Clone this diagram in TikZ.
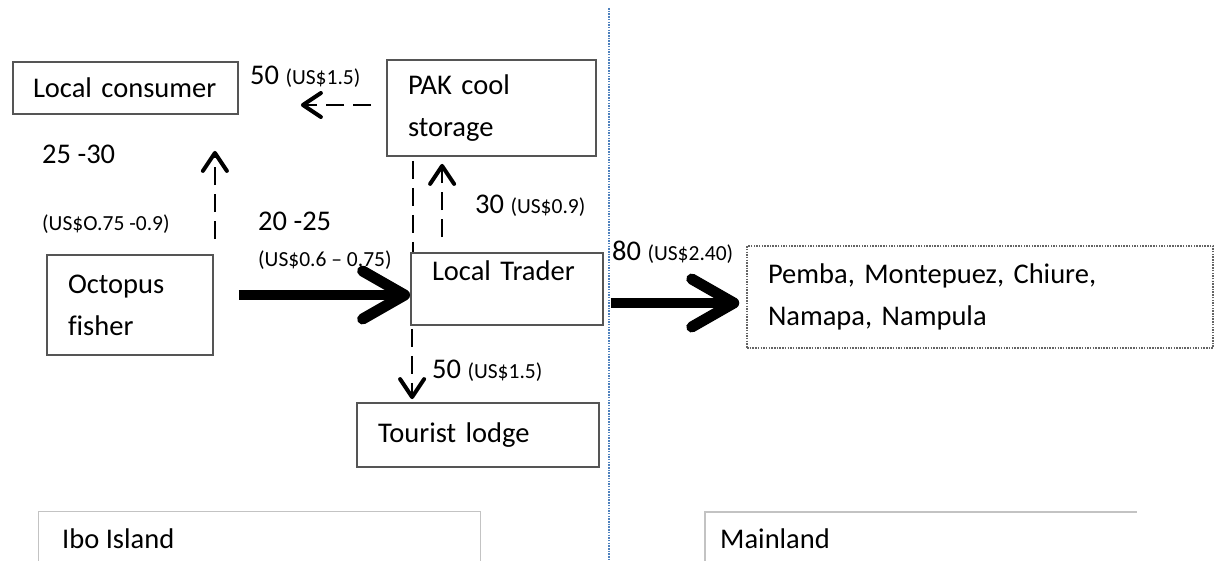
\documentclass[tikz,border=0pt]{standalone}
\usepackage{fontspec}
\setmainfont{Carlito}[Ligatures=NoCommon]
\usetikzlibrary{arrows.meta,calc}
\definecolor{boxgray}{RGB}{85,85,85}
\definecolor{dotgray}{RGB}{100,100,100}
\definecolor{regiongray}{RGB}{195,195,195}
\definecolor{divblue}{RGB}{79,129,189}
\newcommand{\bigfont}{\fontsize{28.5}{42}\selectfont}
\newcommand{\pricetag}[1]{{\fontsize{21.5}{24}\selectfont(US\$#1)}}
\begin{document}
\begin{tikzpicture}[x=1pt,y=-1pt,
  box/.style={draw=boxgray, line width=1.8pt, fill=white, inner sep=0pt, align=left, font=\bigfont},
  lbl/.style={inner sep=0pt, anchor=base west, font=\bigfont},
  smlbl/.style={inner sep=0pt, anchor=base west},
  dashline/.style={line width=2.5pt, dash pattern=on 18pt off 9pt},
  dasharrow/.style={dashline, -{Straight Barb[length=18pt, width=24pt, line width=4pt, round]}},
  thickarrow/.style={line width=10pt, -{Straight Barb[length=42pt, width=48pt, line width=11pt, round]}},
  divider/.style={draw=divblue, line width=2pt, dash pattern=on 1.5pt off 1.2pt},
  regionline/.style={draw=regiongray, line width=1.2pt}
]
\useasboundingbox (0,0) rectangle (1216,560);

% boxes
\node[box, minimum width=225, minimum height=52, text width=185] (consumer) at (125.5,88) {Local consumer};
\node[box, minimum width=209, minimum height=96, text width=167] (pak) at (491.5,108) {PAK cool\\storage};
\node[box, minimum width=166, minimum height=100, text width=124] (fisher) at (130,305) {Octopus\\fisher};
\node[box, minimum width=242, minimum height=64, text width=200] (lodge) at (478,435) {Tourist lodge};
\node[box, draw=dotgray, line width=1.5pt, dash pattern=on 1.5pt off 1.2pt, minimum width=466, minimum height=102, text width=424] (pemba) at (980,297) {Pemba, Montepuez, Chiure,\\Namapa, Nampula};

% dashed line PAK -> trader (behind the trader box)
\draw[dashline, shorten <=4pt] ($(pak.south -| 411,0)+(2,0)$) -- (413,253);
\node[box, minimum width=192, minimum height=72, text width=150, text height=18pt, text depth=36pt] (trader) at (507,289) {Local Trader};

% dashed connectors
\draw[dasharrow, shorten <=15pt, shorten >=62pt] ($(pak.west)+(0,-3)$) -- ($(consumer.east |- pak.west)+(0,-3)$);
\draw[dasharrow, shorten <=15pt, shorten >=36pt] ($(fisher.north east)+(1,0)$) -- ($(fisher.north east |- consumer.south)+(1,0)$);
\draw[dasharrow, shorten <=15pt, shorten >=7pt] ($(trader.north west)+(32,0)$) -- ($(pak.south -| trader.north west)+(32,0)$);
\draw[dasharrow, shorten <=3pt, shorten >=3pt] ($(trader.south west)+(2,0)$) -- ($(lodge.north -| trader.west)+(2,0)$);

% thick connectors
\draw[thickarrow] ($(fisher.east)+(25,-10)$) -- ($(trader.west)+(0,6)$);
\draw[thickarrow] ($(trader.east)+(7,14)$) -- ($(pemba.west)+(-7,6)$);

% divider
\coordinate (divtop) at (609,8);
\coordinate (divbot) at (609,560);
\draw[divider] (divtop) -- (divbot);

% labels
\node[lbl] (l1) at (250,84) {50 \pricetag{1.5}};
\node[lbl] (l2) at (42,163) {25 -30};
\node[smlbl] (l3) at (42,230) {\pricetag{O.75 -0.9}};
\node[lbl] (l4) at (258,230) {20 -25};
\node[smlbl] (l5) at (258,266) {\pricetag{0.6 -- 0.75}};
\node[lbl] (l6) at (475,213) {30 \pricetag{0.9}};
\node[lbl] (l7) at (612,260) {80 \pricetag{2.40}};
\node[lbl] (l8) at (432,378) {50 \pricetag{1.5}};

% regions
\node[regionline, inner sep=0pt, anchor=north west, minimum width=442, minimum height=80] (ibo) at (38,511) {};
\node[lbl] (ibotext) at (62,548) {Ibo Island};
\coordinate (mainTL) at (705,512);
\coordinate (mainBL) at (705,590);
\coordinate (mainTR) at (1137,512);
\draw[regionline] (mainBL) -- (mainTL) -- (mainTR);
\node[lbl] (maintext) at (720,548) {Mainland};
\end{tikzpicture}
\end{document}
